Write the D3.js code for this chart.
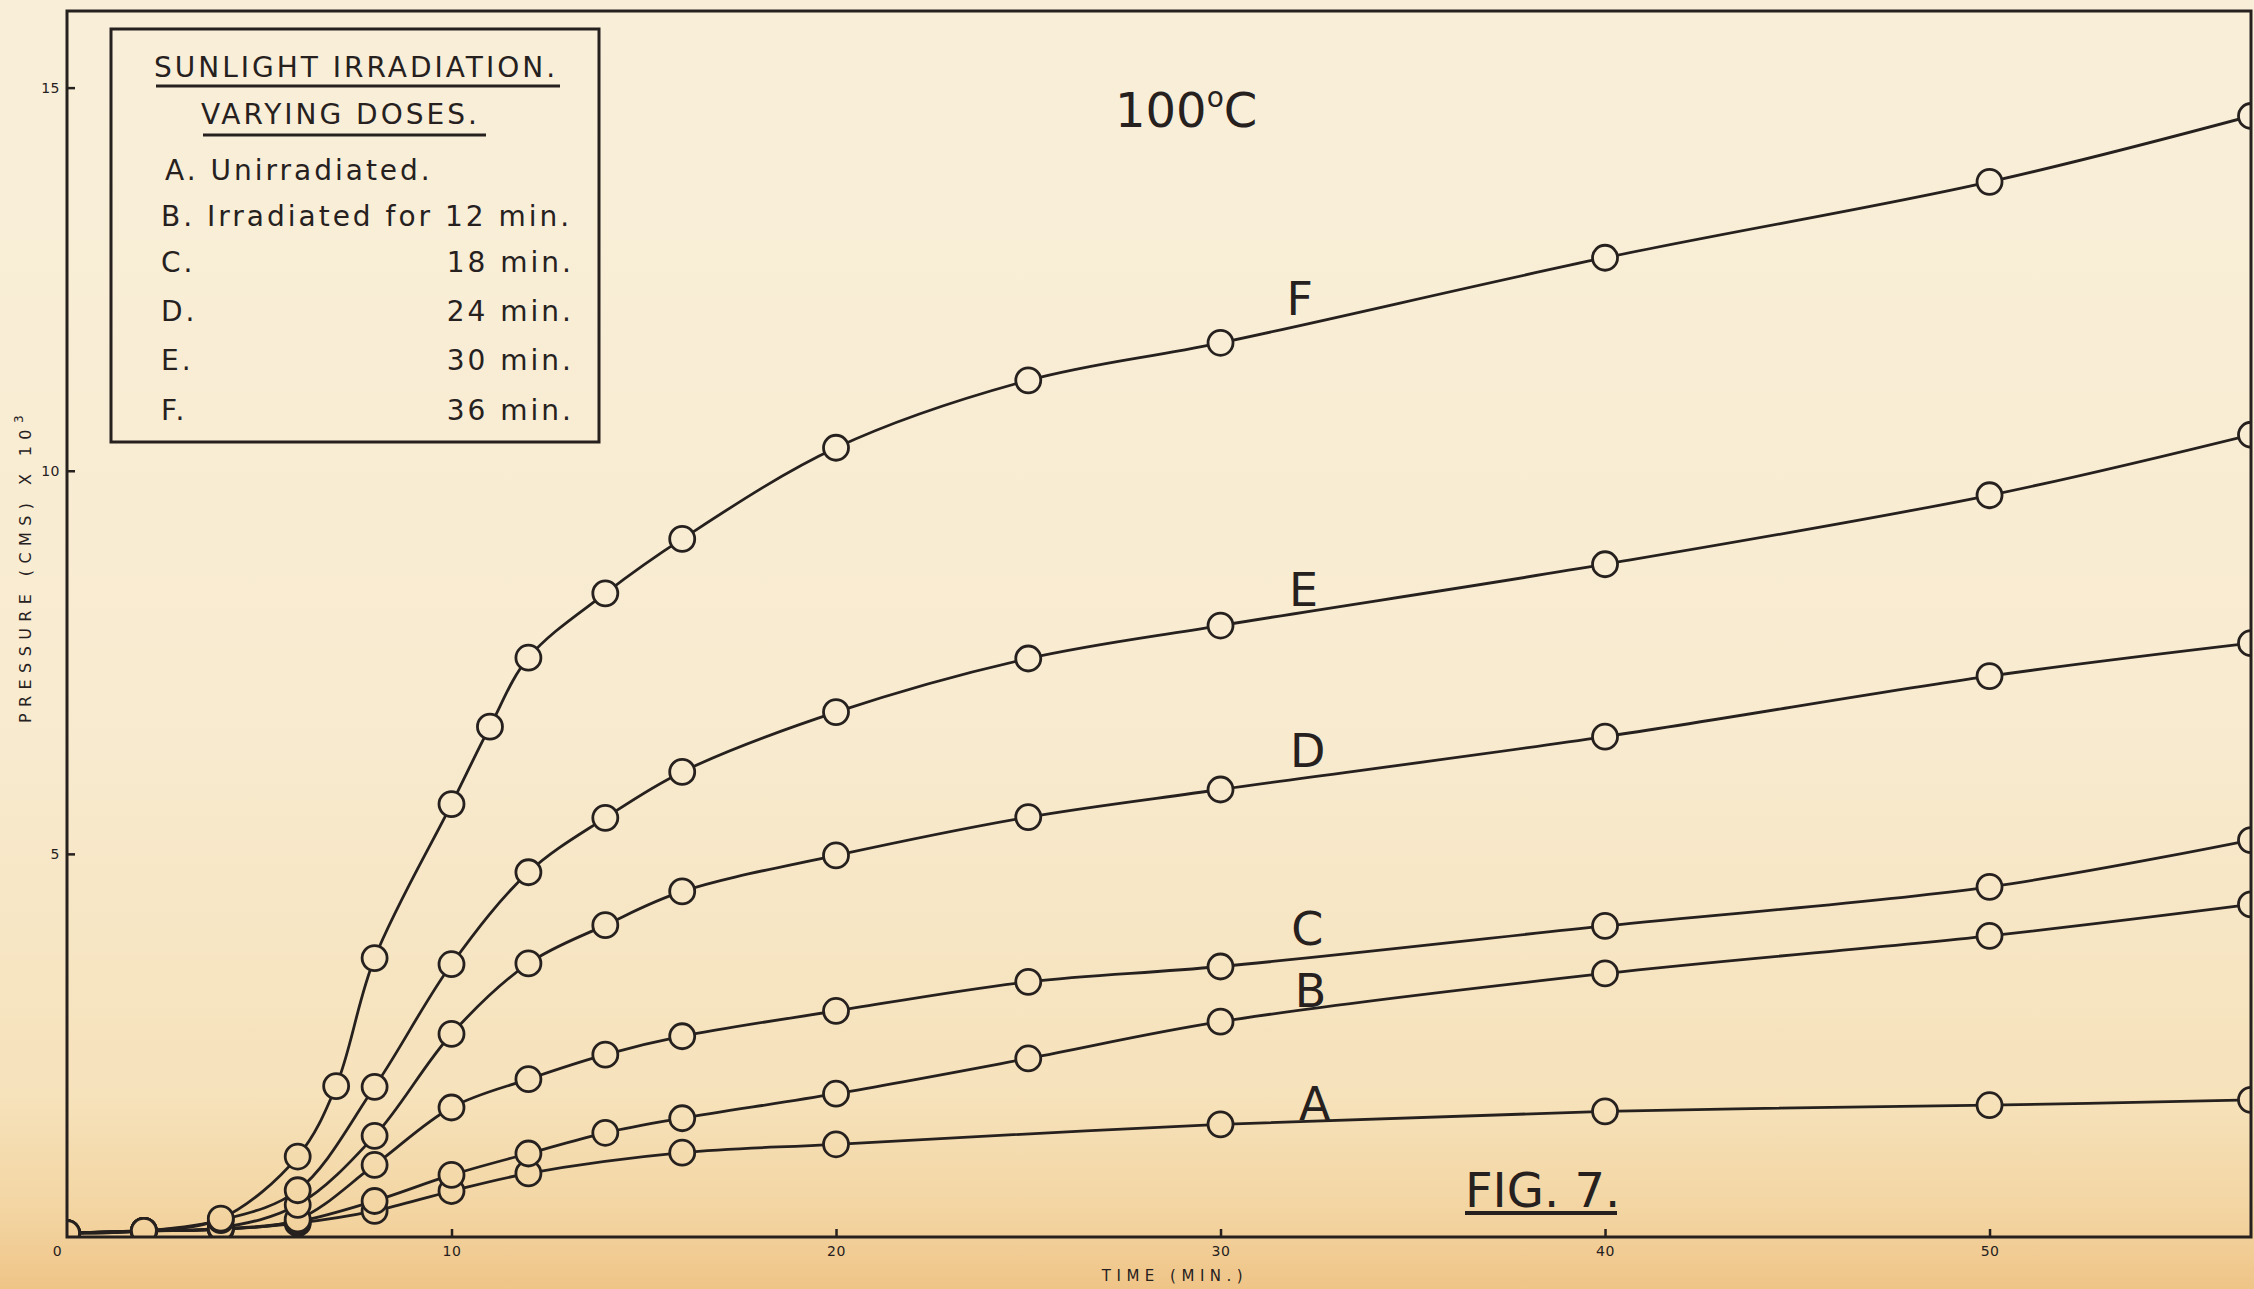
<!DOCTYPE html>
<html><head><meta charset="utf-8">
<script src="https://cdn.jsdelivr.net/npm/d3@7/dist/d3.min.js"></script>
<style>html,body{margin:0;padding:0;background:#f7e9cc;overflow:hidden}</style>
</head><body><svg id="chart" width="2254" height="1289"></svg>
<script>
// ---------- data ----------
const seriesNames = ['A', 'B', 'C', 'D', 'E', 'F'];
const timesA = [0, 2, 4, 6, 8, 10, 12, 16, 20, 30, 40, 50, 56.8];
const pressureA = [0.05, 0.08, 0.10, 0.18, 0.34, 0.60, 0.83, 1.10, 1.21, 1.47, 1.64, 1.72, 1.79];
const timesB = [0, 2, 4, 6, 8, 10, 12, 14, 16, 20, 25, 30, 40, 50, 56.8];
const pressureB = [0.05, 0.08, 0.10, 0.20, 0.47, 0.81, 1.09, 1.36, 1.55, 1.87, 2.33, 2.81, 3.44, 3.93, 4.34];
const timesC = [0, 2, 4, 6, 8, 10, 12, 14, 16, 20, 25, 30, 40, 50, 56.8];
const pressureC = [0.05, 0.08, 0.11, 0.23, 0.94, 1.69, 2.06, 2.38, 2.62, 2.95, 3.33, 3.53, 4.06, 4.57, 5.18];
const timesD = [0, 2, 4, 6, 8, 10, 12, 14, 16, 20, 25, 30, 40, 50, 56.8];
const pressureD = [0.05, 0.08, 0.12, 0.42, 1.32, 2.65, 3.57, 4.07, 4.51, 4.98, 5.48, 5.84, 6.53, 7.32, 7.75];
const timesE = [0, 2, 4, 6, 8, 10, 12, 14, 16, 20, 25, 30, 40, 50, 56.8];
const pressureE = [0.05, 0.08, 0.22, 0.61, 1.96, 3.56, 4.76, 5.47, 6.07, 6.85, 7.55, 7.98, 8.78, 9.68, 10.47];
const timesF = [0, 2, 4, 6, 7, 8, 10, 11, 12, 14, 16, 20, 25, 30, 40, 50, 56.8];
const pressureF = [0.05, 0.08, 0.24, 1.05, 1.97, 3.64, 5.65, 6.66, 7.56, 8.40, 9.11, 10.30, 11.18, 11.67, 12.78, 13.77, 14.63];

const curveLabelTime = [32.45, 32.34, 32.26, 32.27, 32.16, 32.06];
const curveLabelPressure = [1.75, 3.22, 4.03, 6.35, 8.46, 12.25];

const xTicks = [0, 10, 20, 30, 40, 50];
const yTicks = [5, 10, 15];
const xDomain = [0, 56.8];
const yDomain = [0, 16];

const legendTitle = ['SUNLIGHT IRRADIATION.', 'VARYING DOSES.'];
const legendLeft = ['A. Unirradiated.', 'B. Irradiated for 12 min.', 'C.', 'D.', 'E.', 'F.'];
const legendRight = ['', '', '18 min.', '24 min.', '30 min.', '36 min.'];
const tempLabel = '100';
const figLabel = 'FIG. 7.';
const xTitle = 'TIME (MIN.)';
const yTitle = 'PRESSURE (CMS) X 10';

// ---------- layout ----------
const W = 2254, H = 1289;
const L = 67, R = 2251, T = 11, B = 1237;
const ink = '#26211e';
const font = "'DejaVu Sans', 'Liberation Sans', sans-serif";

const svg = d3.select('#chart');
const defs = svg.append('defs');
const grad = defs.append('linearGradient').attr('id', 'paper')
  .attr('gradientUnits', 'userSpaceOnUse').attr('x1', 0).attr('y1', 0).attr('x2', 0).attr('y2', H);
[[0, '#f9efd9'], [0.55, '#f8ebd0'], [0.85, '#f6e2bb'], [0.94, '#f3d5a2'], [1, '#efc487']]
  .forEach(([o, c]) => grad.append('stop').attr('offset', o).attr('stop-color', c));
defs.append('clipPath').attr('id', 'plotClip').append('rect')
  .attr('x', L).attr('y', T).attr('width', R - L).attr('height', B - T);

svg.append('rect').attr('width', W).attr('height', H).attr('fill', 'url(#paper)');

const x = d3.scaleLinear().domain(xDomain).range([L, R]);
const y = d3.scaleLinear().domain(yDomain).range([B, T]);

const allTimes = [timesA, timesB, timesC, timesD, timesE, timesF];
const allPressure = [pressureA, pressureB, pressureC, pressureD, pressureE, pressureF];
const series = seriesNames.map((n, i) => ({
  name: n, pts: allTimes[i].map((t, j) => ({ t, p: allPressure[i][j] }))
}));

const line = d3.line().x(d => x(d.t)).y(d => y(d.p)).curve(d3.curveCatmullRom.alpha(0.5));
const plot = svg.append('g').attr('clip-path', 'url(#plotClip)');
plot.selectAll('path.curve').data(series).join('path').attr('class', 'curve')
  .attr('d', d => line(d.pts)).attr('fill', 'none').attr('stroke', ink)
  .attr('stroke-width', 2.8).attr('stroke-linejoin', 'round');
series.forEach(s => {
  plot.append('g').selectAll('circle').data(s.pts).join('circle')
    .attr('cx', d => x(d.t)).attr('cy', d => y(d.p)).attr('r', 12.5)
    .attr('fill', 'url(#paper)').attr('stroke', ink).attr('stroke-width', 2.8);
});

// frame
svg.append('rect').attr('x', L).attr('y', T).attr('width', R - L).attr('height', B - T)
  .attr('fill', 'none').attr('stroke', ink).attr('stroke-width', 3);

// axes
const xAxis = svg.append('g').attr('transform', `translate(0,${B})`)
  .call(d3.axisBottom(x).tickValues(xTicks).tickSize(-8).tickPadding(9).tickFormat(d3.format('d')));
const yAxis = svg.append('g').attr('transform', `translate(${L},0)`)
  .call(d3.axisLeft(y).tickValues(yTicks).tickSize(-8).tickPadding(7).tickFormat(d3.format('d')));
[xAxis, yAxis].forEach(a => {
  a.select('.domain').remove();
  a.selectAll('line').attr('stroke', ink).attr('stroke-width', 2.5);
  a.selectAll('text').attr('fill', ink).style('font-family', font).style('font-size', '14px')
    .style('letter-spacing', '0.5px');
});
xAxis.selectAll('.tick').filter(d => d === 0).select('line').remove();
xAxis.selectAll('.tick').filter(d => d === 0).select('text').attr('x', -10);

// axis titles
svg.append('text').attr('x', 1175).attr('y', 1281).attr('text-anchor', 'middle')
  .attr('fill', ink).style('font-family', font).style('font-size', '15px').style('letter-spacing', '5.5px')
  .text(xTitle);
const yt = svg.append('text').attr('transform', 'translate(31,566) rotate(-90)').attr('text-anchor', 'middle')
  .attr('fill', ink).style('font-family', font).style('font-size', '16px').style('letter-spacing', '6.4px');
yt.append('tspan').text(yTitle);
yt.append('tspan').attr('dy', -8).style('font-size', '12px').text('3');

// curve labels
svg.append('g').selectAll('text').data(seriesNames).join('text')
  .attr('x', (d, i) => x(curveLabelTime[i])).attr('y', (d, i) => y(curveLabelPressure[i]) + 17)
  .attr('text-anchor', 'middle').attr('fill', ink)
  .style('font-family', font).style('font-size', '46px').text(d => d);

// temperature
const tt = svg.append('text').attr('x', 1115).attr('y', 127).attr('fill', ink)
  .style('font-family', font).style('font-size', '48px');
tt.append('tspan').text(tempLabel);
tt.append('tspan').attr('dy', -20).style('font-size', '28px').text('o');
tt.append('tspan').attr('dy', 20).text('C');

// fig label
svg.append('text').attr('x', 1465).attr('y', 1207).attr('fill', ink)
  .style('font-family', font).style('font-size', '48px').text(figLabel);
svg.append('line').attr('x1', 1465).attr('x2', 1617).attr('y1', 1213).attr('y2', 1213)
  .attr('stroke', ink).attr('stroke-width', 4);

// legend box
const lg = svg.append('g');
lg.append('rect').attr('x', 111).attr('y', 29).attr('width', 488).attr('height', 413)
  .attr('fill', 'none').attr('stroke', ink).attr('stroke-width', 3);
const titleX = [154, 201], titleY = [77, 124], ulY = [86, 135], ulX2 = [560, 486];
legendTitle.forEach((t, i) => {
  lg.append('text').attr('x', titleX[i]).attr('y', titleY[i]).attr('fill', ink)
    .style('font-family', font).style('font-size', '28px').style('letter-spacing', '3px').text(t);
  lg.append('line').attr('x1', titleX[i] + 2).attr('x2', ulX2[i]).attr('y1', ulY[i]).attr('y2', ulY[i])
    .attr('stroke', ink).attr('stroke-width', 3);
});
const rowY = [180, 226, 272, 321, 370, 420];
legendLeft.forEach((t, i) => {
  lg.append('text').attr('x', i === 0 ? 165 : 161).attr('y', rowY[i]).attr('fill', ink)
    .style('font-family', font).style('font-size', '28px').style('letter-spacing', '3px').text(t);
  if (legendRight[i]) {
    lg.append('text').attr('x', 574).attr('y', rowY[i]).attr('text-anchor', 'end').attr('fill', ink)
      .style('font-family', font).style('font-size', '28px').style('letter-spacing', '3px').text(legendRight[i]);
  }
});
</script></body></html>
